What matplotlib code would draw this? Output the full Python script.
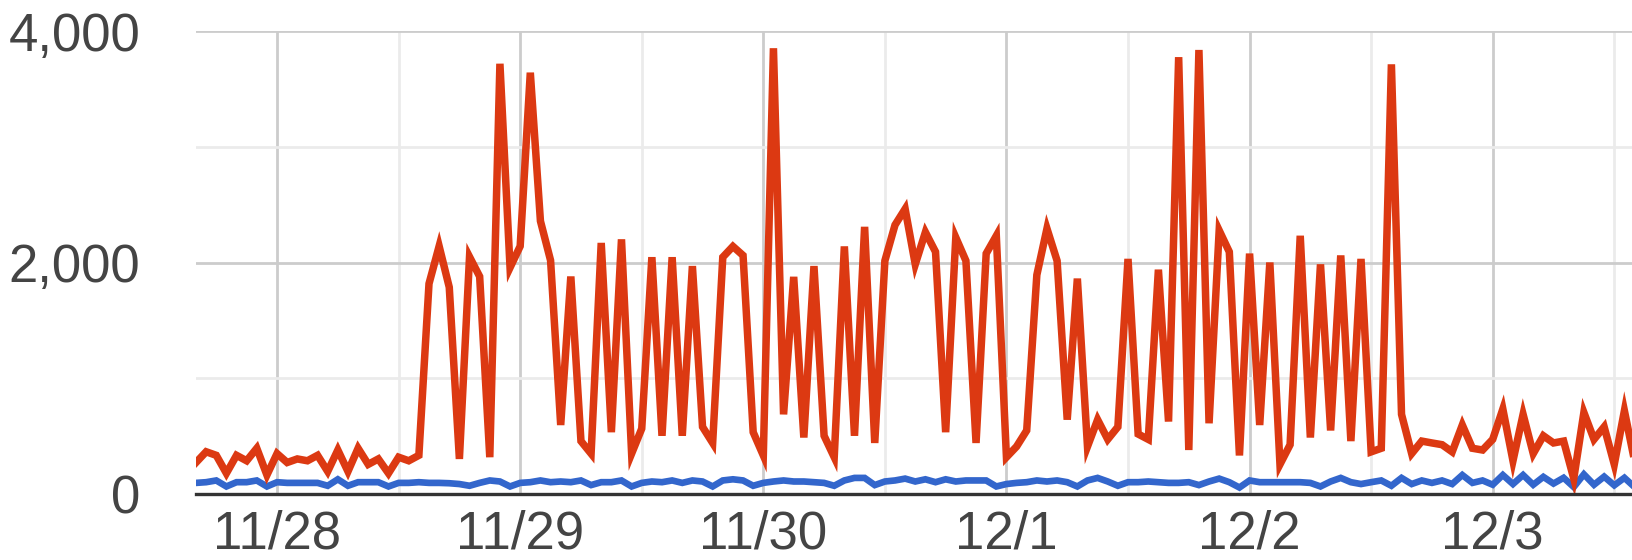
import matplotlib
matplotlib.use("Agg")
import matplotlib.pyplot as plt
import matplotlib.dates as mdates
import matplotlib.ticker as mticker
import pandas as pd

# ---- data (hourly samples) ----
start_time = "2020-11-27 16:00"
red_values = [
    272, 365, 334, 179, 334, 287, 395, 164, 349, 272, 303, 287, 334, 195, 380, 195,
    395, 256, 303, 179, 318, 287, 334, 1817, 2141, 1786, 303, 2049, 1879, 318, 3717, 1956,
    2141, 3640, 2358, 2018, 596, 1879, 457, 349, 2169, 534, 2200, 349, 565, 2046, 503, 2046,
    503, 1969, 580, 441, 2046, 2139, 2061, 534, 333, 3851, 688, 1876, 488, 1969, 503, 318,
    2139, 503, 2308, 441, 2015, 2324, 2463, 1984, 2262, 2092, 534, 2216, 2015, 441, 2077, 2231,
    318, 410, 549, 1892, 2293, 2015, 642, 1861, 410, 642, 472, 580, 2031, 518, 472, 1938,
    626, 3774, 380, 3836, 611, 2277, 2092, 333, 2077, 596, 2000, 256, 426, 2231, 488, 1984,
    549, 2061, 457, 2031, 364, 395, 3712, 688, 349, 457, 441, 426, 364, 596, 395, 380,
    472, 734, 287, 688, 349, 503, 441, 457, 133, 704, 472, 580, 256, 719, 287,
]
blue_values = [
    96, 102, 117, 65, 102, 102, 117, 65, 102, 96, 96, 96, 96, 71, 127, 71,
    102, 102, 102, 65, 96, 96, 102, 96, 96, 93, 86, 71, 96, 117, 108, 65,
    96, 102, 117, 102, 108, 102, 117, 77, 102, 102, 117, 65, 96, 108, 102, 117,
    96, 117, 108, 65, 117, 127, 117, 71, 96, 108, 117, 108, 108, 102, 96, 71,
    117, 139, 139, 77, 108, 117, 133, 108, 127, 102, 127, 108, 117, 117, 117, 65,
    86, 96, 102, 117, 108, 117, 102, 65, 117, 139, 108, 71, 102, 102, 108, 102,
    96, 96, 102, 77, 108, 133, 102, 56, 117, 102, 102, 102, 102, 102, 96, 65,
    108, 139, 102, 86, 102, 117, 71, 139, 86, 117, 96, 117, 86, 164, 96, 117,
    80, 164, 86, 164, 80, 148, 90, 140, 60, 170, 80, 150, 75, 140, 60,
]
y_ticks = [0, 2000, 4000]
y_minor_ticks = [1000, 3000]

times = pd.date_range(start_time, periods=len(red_values), freq="h")

RED = "#dc3912"
BLUE = "#3366cc"
TEXT = "#444444"

plt.rcParams["font.family"] = ["Liberation Sans", "DejaVu Sans"]

fig = plt.figure(figsize=(16.32, 5.6), dpi=100)
W, H = 1632, 560
left_px, right_px, top_px, bottom_px = 196, 1632, 31, 494
ax = fig.add_axes([left_px / W, (H - bottom_px) / H, (right_px - left_px) / W, (bottom_px - top_px) / H])

ax.plot(times, blue_values, color=BLUE, lw=4.8, solid_joinstyle="miter", zorder=3)
ax.plot(times, red_values, color=RED, lw=5.4, solid_joinstyle="miter", zorder=4)
ax.axhline(0, color="#333333", lw=2.4, zorder=5, clip_on=False)

t0 = pd.Timestamp(start_time)
ax.set_xlim(t0, t0 + pd.Timedelta(hours=141.75))
ax.set_ylim(0, 4000)

ax.xaxis.set_major_locator(mdates.DayLocator())
ax.xaxis.set_minor_locator(mdates.HourLocator(byhour=[12]))
ax.xaxis.set_major_formatter(mticker.FuncFormatter(
    lambda v, p: f"{mdates.num2date(v).month}/{mdates.num2date(v).day}"))
ax.yaxis.set_major_locator(mticker.FixedLocator(y_ticks))
ax.yaxis.set_minor_locator(mticker.FixedLocator(y_minor_ticks))
ax.yaxis.set_major_formatter(mticker.FuncFormatter(lambda v, p: f"{int(v):,}"))

ax.grid(which="major", color="#cccccc", lw=2.0, zorder=0)
ax.grid(which="minor", color="#ebebeb", lw=2.0, zorder=0)
ax.set_axisbelow(True)

for s in ax.spines.values():
    s.set_visible(False)

ax.tick_params(axis="both", which="both", length=0, labelcolor=TEXT, labelsize=38)
ax.tick_params(axis="x", pad=11)
ax.tick_params(axis="y", pad=40)

fig.savefig("out.png", dpi=100)
